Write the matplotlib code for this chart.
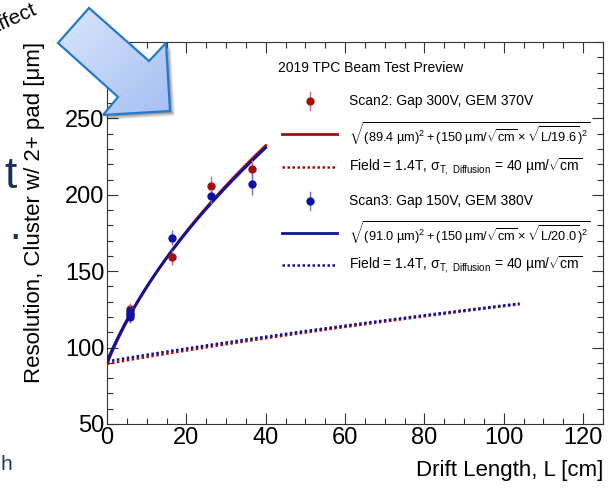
import numpy as np
import matplotlib
matplotlib.use("Agg")
import matplotlib.pyplot as plt
from matplotlib.patches import Polygon
from matplotlib.lines import Line2D
from matplotlib.ticker import MultipleLocator
from matplotlib.colors import LinearSegmentedColormap

plt.rcParams['font.family'] = ['Liberation Sans', 'DejaVu Sans']
plt.rcParams['mathtext.fontset'] = 'custom'
plt.rcParams['mathtext.rm'] = 'Liberation Sans'
plt.rcParams['mathtext.it'] = 'Liberation Sans:italic'
plt.rcParams['mathtext.bf'] = 'Liberation Sans:bold'

# ---------------- data ----------------
scan2_x = [5.8, 5.8, 16.3, 26.3, 36.6]
scan2_y = [125, 122, 159, 206, 217]
scan2_err = [4, 4, 5, 6, 6]

scan3_x = [5.8, 5.8, 5.8, 16.3, 26.3, 36.6]
scan3_y = [120, 122, 124, 172, 199, 207]
scan3_err = [4, 4, 4, 5, 5, 7]

# fit parameters (from legend)
scan2_sigma0, scan2_D, scan2_L0 = 89.4, 150.0, 19.6
scan3_sigma0, scan3_D, scan3_L0 = 91.0, 150.0, 20.0
diffusion = 40.0
fit_range = [0, 40]
diff_range = [0, 104]

xlim = [0, 125]
ylim = [50, 300]
xticks = [0, 20, 40, 60, 80, 100, 120]
yticks = [50, 100, 150, 200, 250]

red = '#a80d0d'
blue = '#0a14a0'

W, H = 610, 488
fig = plt.figure(figsize=(W / 100, H / 100), dpi=100)
fig.patch.set_facecolor('white')

def px_axes(l, t, r, b):
    return [l / W, 1 - b / H, (r - l) / W, (b - t) / H]

ax = fig.add_axes(px_axes(107, 42, 603, 424))

Lfit = np.linspace(fit_range[0], fit_range[1], 200)
Ldif = np.linspace(diff_range[0], diff_range[1], 300)

def res(s0, D, L0, L):
    return np.sqrt(s0 ** 2 + D ** 2 * L / L0)

ax.plot(Ldif, res(scan2_sigma0, diffusion, scan2_L0, Ldif), color=red, lw=1.8, ls=(0, (1, 1)), zorder=3)
ax.plot(Ldif, res(scan3_sigma0, diffusion, scan3_L0, Ldif), color=blue, lw=1.8, ls=(0, (1, 1)), zorder=3)
ax.plot(Lfit, res(scan2_sigma0, scan2_D, scan2_L0, Lfit), color=red, lw=2.0, zorder=4)
ax.plot(Lfit, res(scan3_sigma0, scan3_D, scan3_L0, Lfit), color=blue, lw=2.0, zorder=5)

ax.errorbar(scan2_x, scan2_y, yerr=scan2_err, fmt='o', color=red, ms=6, mew=0,
            ecolor='#d07070', elinewidth=1.0, capsize=0, zorder=6)
ax.errorbar(scan3_x, scan3_y, yerr=scan3_err, fmt='o', color=blue, ms=6, mew=0,
            ecolor='#7070d0', elinewidth=1.0, capsize=0, zorder=7)

ax.set_xlim(xlim)
ax.set_ylim(ylim)
ax.set_xticks(xticks)
ax.set_yticks(yticks)
ax.xaxis.set_minor_locator(MultipleLocator(5))
ax.yaxis.set_minor_locator(MultipleLocator(10))
ax.tick_params(which='both', direction='in', top=True, right=True, color='#333333', width=0.8)
ax.tick_params(which='major', length=8, labelsize=17, pad=2)
ax.tick_params(which='minor', length=4)
for s in ax.spines.values():
    s.set_color('#333333')
    s.set_linewidth(0.8)

ax.set_xlabel('Drift Length, L [cm]', fontsize=16, loc='right', labelpad=8)
ax.set_ylabel('Resolution, Cluster w/ 2+ pad [\u03bcm]', fontsize=16, loc='top', labelpad=14)

# ---------------- legend (manual, pixel coords) ----------------
lg = fig.add_axes([0, 0, 1, 1], zorder=5)
lg.set_xlim(0, W)
lg.set_ylim(H, 0)
lg.axis('off')
lg.patch.set_alpha(0)

lg.text(278, 68, '2019 TPC Beam Test Preview', fontsize=10, va='center', ha='left')
tx = 349
fs = 10
ffs = 9.2
rows = [100.7, 134, 166.7, 200.7, 232.7, 265]
formula2 = r'$\sqrt{(89.4\ \mathrm{µm})^2 + (150\ \mathrm{µm}/\sqrt{\mathrm{cm}}\times\sqrt{\mathrm{L/19.6}})^2}$'
formula3 = r'$\sqrt{(91.0\ \mathrm{µm})^2 + (150\ \mathrm{µm}/\sqrt{\mathrm{cm}}\times\sqrt{\mathrm{L/20.0}})^2}$'
field = r'Field = 1.4T, $\mathrm{σ}_{\mathrm{T,\ Diffusion}}$ = 40 µm/$\sqrt{\mathrm{cm}}$'

lg.add_line(Line2D([310, 310], [rows[0] - 9, rows[0] + 9], color='#d07070', lw=1))
lg.plot([310], [rows[0]], 'o', color=red, ms=6, mew=0)
lg.text(tx, rows[0], 'Scan2: Gap 300V, GEM 370V', fontsize=fs, va='center')
lg.add_line(Line2D([282, 337], [rows[1], rows[1]], color=red, lw=2))
lg.text(tx, rows[1], formula2, fontsize=ffs, va='center')
lg.add_line(Line2D([282, 337], [rows[2], rows[2]], color=red, lw=1.8, ls=(0, (1, 1))))
lg.text(tx, rows[2], field, fontsize=fs, va='center')
lg.add_line(Line2D([310, 310], [rows[3] - 9, rows[3] + 9], color='#7070d0', lw=1))
lg.plot([310], [rows[3]], 'o', color=blue, ms=6, mew=0)
lg.text(tx, rows[3], 'Scan3: Gap 150V, GEM 380V', fontsize=fs, va='center')
lg.add_line(Line2D([282, 337], [rows[4], rows[4]], color=blue, lw=2))
lg.text(tx, rows[4], formula3, fontsize=ffs, va='center')
lg.add_line(Line2D([282, 337], [rows[5], rows[5]], color=blue, lw=1.8, ls=(0, (1, 1))))
lg.text(tx, rows[5], field, fontsize=fs, va='center')

# ---------------- slide fragments & arrow ----------------
ov = fig.add_axes([0, 0, 1, 1], zorder=10)
ov.set_xlim(0, W)
ov.set_ylim(H, 0)
ov.axis('off')
ov.patch.set_alpha(0)

ov.text(-17, 35, 'Effect', fontsize=15, rotation=24, ha='left', va='baseline', color='black')
ov.text(4, 176, 't', fontsize=32, color='#1b2f5e', ha='left', va='center')
ov.text(9, 228, '.', fontsize=30, color='#1b2f5e', ha='left', va='center')
ov.text(0, 465, 'h', fontsize=15, color='#1b3a6e', ha='left', va='center')

arrow = [(89, 8), (149, 61), (166, 43), (170, 111), (103, 115), (118, 97), (58, 43)]
for k, a in [(5, 0.08), (4, 0.1), (3, 0.12), (2, 0.14)]:
    sh = Polygon([(x + k, y + k) for x, y in arrow], closed=True, fc='black', ec='none', alpha=a)
    ov.add_patch(sh)
poly = Polygon(arrow, closed=True, fc='none', ec='#2279cf', lw=1.6, zorder=12)
clip = Polygon(arrow, closed=True, fc='none', ec='none', transform=ov.transData)
ov.add_patch(clip)
gx, gy = np.meshgrid(np.linspace(0, 1, 64), np.linspace(0, 1, 64))
grad = gx * 0.5 + gy * 0.5
cm = LinearSegmentedColormap.from_list('arr', ['#dbe6fc', '#a4bff2'])
im = ov.imshow(grad, cmap=cm, extent=[55, 172, 117, 6], origin='upper', zorder=11, aspect='auto')
im.set_clip_path(clip)
ov.add_patch(poly)
ov.set_xlim(0, W)
ov.set_ylim(H, 0)

fig.savefig('out.png', dpi=100, facecolor='white')
